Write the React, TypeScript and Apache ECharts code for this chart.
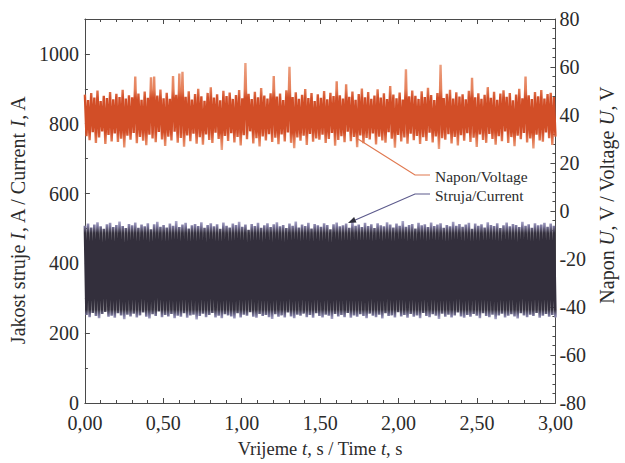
import React, { useEffect, useRef } from "react";
import * as echarts from "echarts";

// Tick labels
const xTicks = [0, 0.5, 1, 1.5, 2, 2.5, 3];
const seriesNames = ["Struja/Current", "Napon/Voltage"];

// Current I (A): successive local maxima and minima of the recorded signal
const currentPeaks = [
  508, 514, 503, 511, 518, 506, 499, 512, 516, 504, 510, 520, 507, 501, 513,
  509, 517, 502, 511, 506, 515, 498, 512, 519, 505, 510, 503, 514, 508, 521,
  504, 511, 516, 500, 509, 513, 507, 518, 502, 510, 515, 506, 512, 499, 517,
  508, 503, 514, 510, 519, 505, 511, 496, 513, 507, 516, 502, 509, 515, 504,
  512, 518, 506, 510, 501, 514, 508, 520, 503, 511, 507, 516, 500, 513, 509,
  505, 515, 510, 498, 512, 517, 506, 509, 514, 502, 519, 508, 511, 504, 516,
  507, 512, 501, 515, 509, 506, 518, 511, 503, 514, 508, 521, 505, 510, 513,
  500, 516, 509, 512, 504, 517, 507, 511, 515, 502, 510, 506, 519, 508, 513,
  505, 511, 516, 499, 514, 508, 512, 503, 518, 510, 507, 515, 501, 509, 517,
  506, 513, 510, 504, 519, 508, 512, 502, 515, 509, 511, 516, 505, 514, 508,
];
const currentTroughs = [
  252, 246, 258, 249, 243, 255, 261, 247, 250, 244, 257, 251, 240, 253, 248,
  256, 245, 251, 259, 247, 242, 254, 249, 262, 246, 252, 248, 255, 243, 250,
  247, 257, 244, 251, 253, 239, 249, 256, 246, 252, 258, 245, 250, 243, 254,
  251, 248, 242, 257, 245, 253, 250, 260, 247, 244, 255, 249, 252, 246, 241,
  254, 247, 251, 245, 259, 248, 243, 253, 250, 256, 246, 252, 244, 257, 249,
  245, 253, 250, 241, 255, 248, 252, 246, 258, 244, 251, 247, 254, 249, 243,
  256, 250, 246, 253, 242, 257, 249, 251, 245, 260, 248, 252, 244, 255, 247,
  251, 243, 258, 249, 246, 254, 250, 241, 256, 247, 253, 245, 251, 259, 248,
  244, 252, 247, 255, 250, 243, 257, 249, 246, 253, 240, 251, 256, 245, 250,
  254, 248, 242, 257, 251, 246, 253, 249, 258, 244, 250, 255, 247, 252, 245,
];

// Voltage U (V): successive local maxima and minima
const voltagePeaks = [
  48.5, 46.2, 49.1, 47.3, 50.2, 45.8, 48.0, 47.1, 49.6, 46.5, 48.8, 47.5, 50.5, 46.9, 48.2,
  47.4, 56.0, 48.9, 46.3, 49.8, 47.2, 55.7, 56.0, 48.1, 50.6, 47.0, 49.3, 46.8, 56.2, 48.4,
  57.3, 58.0, 47.6, 49.9, 46.4, 48.7, 50.9, 47.8, 45.9, 49.2, 51.5, 47.3, 48.6, 46.1, 50.1,
  47.9, 49.4, 46.7, 48.3, 50.4, 47.0, 61.7, 48.8, 46.6, 49.7, 47.4, 51.2, 48.1, 46.9, 49.0,
  56.2, 47.7, 48.9, 46.2, 50.3, 60.1, 47.5, 49.5, 46.8, 48.4, 50.8, 47.1, 49.1, 45.8, 48.6,
  47.2, 50.0, 46.5, 49.3, 47.9, 54.1, 48.2, 46.9, 52.8, 47.6, 49.8, 46.3, 48.7, 51.0, 47.4,
  49.6, 46.8, 48.1, 50.7, 47.3, 49.0, 46.6, 52.1, 48.5, 47.0, 49.4, 46.4, 59.0, 47.8, 50.2,
  48.0, 46.7, 49.9, 47.5, 51.3, 48.3, 46.2, 49.2, 60.9, 47.1, 48.8, 50.5, 46.9, 49.5, 47.7,
  48.6, 46.5, 50.1, 55.5, 47.4, 49.0, 46.8, 48.4, 51.6, 47.2, 49.7, 46.3, 48.9, 50.3, 47.6,
  49.2, 46.1, 48.5, 50.9, 47.0, 56.0, 48.2, 46.6, 49.6, 47.8, 50.4, 46.9, 48.7, 49.3, 47.5,
];
const voltageTroughs = [
  31.2, 29.5, 32.8, 28.4, 30.6, 33.1, 27.9, 31.7, 29.0, 32.3, 28.8, 30.1, 26.5, 31.4, 29.7,
  32.5, 28.2, 30.9, 29.3, 27.4, 31.8, 30.2, 28.7, 32.9, 29.8, 27.1, 31.0, 29.4, 33.0, 28.5,
  30.4, 26.8, 31.5, 29.1, 32.2, 28.0, 30.7, 27.6, 31.9, 29.6, 28.3, 32.6, 30.0, 25.4, 31.3,
  29.2, 32.4, 28.6, 30.8, 27.3, 31.6, 29.9, 33.2, 28.1, 30.3, 26.9, 31.1, 29.4, 32.0, 28.8,
  30.5, 27.8, 31.9, 29.0, 32.7, 28.4, 26.2, 30.6, 29.3, 31.4, 27.5, 32.1, 28.9, 30.2, 29.7,
  31.8, 28.3, 30.0, 32.5, 27.2, 29.6, 31.2, 28.7, 33.0, 29.1, 30.9, 26.6, 31.5, 28.2, 30.4,
  29.8, 32.3, 27.7, 31.0, 29.4, 28.5, 32.8, 30.1, 26.4, 31.7, 29.0, 30.6, 28.0, 32.2, 29.5,
  31.3, 27.9, 30.7, 29.2, 32.6, 28.6, 31.1, 25.8, 30.3, 29.7, 32.0, 28.1, 30.9, 27.3, 31.6,
  29.3, 32.4, 28.8, 30.5, 26.7, 31.9, 29.6, 28.4, 32.1, 30.0, 27.6, 31.2, 29.1, 33.1, 28.3,
  30.8, 27.0, 31.4, 29.9, 32.5, 28.6, 30.2, 26.1, 31.8, 29.4, 28.9, 32.7, 30.3, 27.5, 31.0,
];

const T_END = 3;

// Interleave maxima/minima into a uniformly sampled time series
function buildSeries(peaks: number[], troughs: number[]): [number, number][] {
  const vals: number[] = [];
  for (let i = 0; i < peaks.length; i++) {
    vals.push(peaks[i]);
    vals.push(troughs[i]);
  }
  const n = vals.length;
  return vals.map((v, j) => [(j * T_END) / (n - 1), v]);
}

const FONT = "Liberation Serif";

export default function App() {
  const ref = useRef<HTMLDivElement>(null);

  useEffect(() => {
    if (!ref.current) return;
    const chart = echarts.init(ref.current, undefined, { renderer: "svg" });

    const currentData = buildSeries(currentPeaks, currentTroughs);
    const voltageData = buildSeries(voltagePeaks, voltageTroughs);

    const labelStyle = { fontFamily: FONT, fontSize: 20, color: "#2b2b2b" };
    const axisLineStyle = { onZero: false, lineStyle: { color: "#4a4a4a", width: 1 } };
    const tickStyle = { lineStyle: { color: "#4a4a4a" } };
    const richName = (size: number) => ({
      n: { fontFamily: FONT, fontSize: size, color: "#2b2b2b" },
      i: { fontFamily: FONT, fontSize: size, color: "#2b2b2b", fontStyle: "italic" },
    });

    const currentGrad = new echarts.graphic.LinearGradient(0, 0, 0, 1, [
      { offset: 0, color: "#aeabcc" },
      { offset: 0.05, color: "#7d79a0" },
      { offset: 0.12, color: "#332f3c" },
      { offset: 0.9, color: "#332f3c" },
      { offset: 0.96, color: "#7b789f" },
      { offset: 1, color: "#b0adcc" },
    ]);
    const voltageGrad = new echarts.graphic.LinearGradient(0, 0, 0, 1, [
      { offset: 0, color: "#eca283" },
      { offset: 0.3, color: "#e5805a" },
      { offset: 0.4, color: "#d24e27" },
      { offset: 0.8, color: "#d24e27" },
      { offset: 0.9, color: "#e37c55" },
      { offset: 1, color: "#eda88a" },
    ]);

    const xFmt = (v: number) => v.toFixed(2).replace(".", ",");

    chart.setOption({
      animation: false,
      backgroundColor: "#ffffff",
      grid: { left: 83, right: 60, top: 19, bottom: 56, containLabel: false },
      xAxis: [
        {
          type: "value",
          position: "bottom",
          min: xTicks[0],
          max: xTicks[xTicks.length - 1],
          interval: 0.5,
          axisLine: { show: true, ...axisLineStyle },
          axisTick: { show: true, inside: true, length: 5, ...tickStyle },
          minorTick: { show: true, splitNumber: 5, length: 3, ...tickStyle },
          splitLine: { show: false },
          axisLabel: { ...labelStyle, margin: 10, formatter: xFmt },
          name: "{n|Vrijeme }{i|t}{n|, s / Time }{i|t}{n|, s}",
          nameLocation: "middle",
          nameGap: 36,
          nameTextStyle: { rich: richName(18.5) },
        },
        {
          type: "value",
          position: "top",
          min: xTicks[0],
          max: xTicks[xTicks.length - 1],
          interval: 0.5,
          axisLine: { show: true, ...axisLineStyle },
          axisTick: { show: true, inside: true, length: 5, ...tickStyle },
          minorTick: { show: true, splitNumber: 5, length: 3, ...tickStyle },
          splitLine: { show: false },
          axisLabel: { show: false },
        },
      ],
      yAxis: [
        {
          type: "value",
          position: "left",
          min: 0,
          max: 1100,
          interval: 200,
          axisLine: { show: true, ...axisLineStyle },
          axisTick: { show: true, inside: true, length: 5, ...tickStyle },
          minorTick: { show: true, splitNumber: 2, length: 3, ...tickStyle },
          splitLine: { show: false },
          axisLabel: { ...labelStyle, margin: 6, showMaxLabel: false, formatter: (v: number) => String(v) },
          name: "{n|Jakost struje }{i|I}{n|, A / Current }{i|I}{n|, A}",
          nameLocation: "middle",
          nameRotate: 90,
          nameGap: 57,
          nameTextStyle: { rich: richName(20), verticalAlign: "middle", padding: [0, 18, 0, 0] },
        },
        {
          type: "value",
          position: "right",
          min: -80,
          max: 80,
          interval: 20,
          axisLine: { show: true, ...axisLineStyle },
          axisTick: { show: true, inside: true, length: 5, ...tickStyle },
          minorTick: { show: true, splitNumber: 5, length: 3, ...tickStyle },
          splitLine: { show: false },
          axisLabel: { ...labelStyle, margin: 4, formatter: (v: number) => String(v) },
          name: "{n|Napon }{i|U}{n|, V / Voltage }{i|U}{n|, V}",
          nameLocation: "middle",
          nameRotate: 90,
          nameGap: 47,
          nameTextStyle: { rich: richName(20), verticalAlign: "middle", padding: [0, 0, 0, 32] },
        },
      ],
      series: [
        {
          name: seriesNames[0],
          type: "line",
          xAxisIndex: 0,
          yAxisIndex: 0,
          data: currentData,
          symbol: "none",
          showSymbol: false,
          lineStyle: { width: 2.6, color: currentGrad, join: "bevel" },
          z: 2,
        },
        {
          name: seriesNames[1],
          type: "line",
          xAxisIndex: 0,
          yAxisIndex: 1,
          data: voltageData,
          symbol: "none",
          showSymbol: false,
          lineStyle: { width: 2.4, color: voltageGrad, join: "bevel" },
          z: 3,
        },
      ],
      graphic: [
        {
          type: "polyline",
          shape: { points: [[358, 139], [415, 175], [430, 175]] },
          style: { stroke: "#e0784f", lineWidth: 1.2, fill: null },
          z: 10,
        },
        {
          type: "text",
          x: 435,
          y: 176,
          style: {
            text: seriesNames[1],
            font: `15.5px "${FONT}"`,
            fill: "#2b2b2b",
            verticalAlign: "middle",
            align: "left",
          },
          z: 10,
        },
        {
          type: "polyline",
          shape: { points: [[430, 194], [415, 194], [353, 221]] },
          style: { stroke: "#5c5a8c", lineWidth: 1.2, fill: null },
          z: 10,
        },
        {
          type: "polygon",
          shape: { points: [[348, 223], [356.5, 222.4], [354.1, 217]] },
          style: { fill: "#2e2e3a" },
          z: 10,
        },
        {
          type: "text",
          x: 435,
          y: 195,
          style: {
            text: seriesNames[0],
            font: `15.5px "${FONT}"`,
            fill: "#2b2b2b",
            verticalAlign: "middle",
            align: "left",
          },
          z: 10,
        },
      ],
    });

    return () => chart.dispose();
  }, []);

  return (
    <div
      ref={ref}
      style={{ position: "absolute", left: 0, top: 0, width: 625, height: 463, background: "#fff" }}
    />
  );
}
